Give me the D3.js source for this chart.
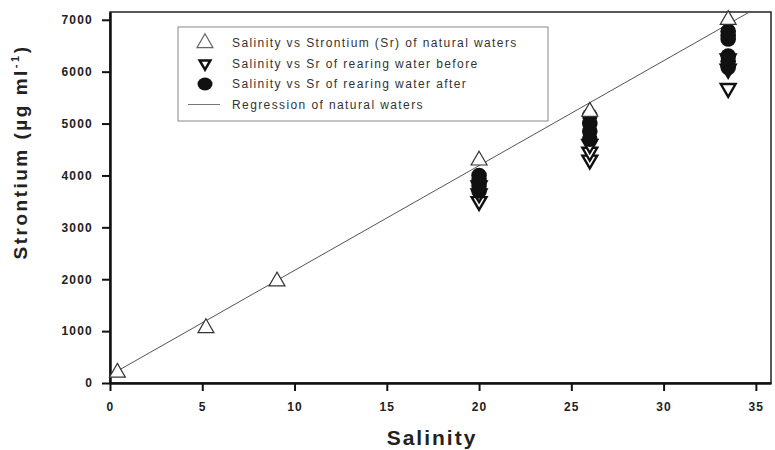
<!DOCTYPE html>
<html>
<head>
<meta charset="utf-8">
<script src="https://cdn.jsdelivr.net/npm/d3@7"></script>
<style>
  body { margin: 0; background: #fff; }
  text { font-family: "Liberation Sans", Arial, sans-serif; }
</style>
</head>
<body>
<svg width="775" height="450"></svg>
<script>
// salinity vs strontium
const natural = [[0.4, 200], [5.2, 1060], [9.05, 1960], [20, 4290], [26, 5230], [33.5, 7000]];
const before = [[20, 3500], [20, 3650], [20, 3800], [26, 4300], [26, 4450], [26, 4600],
                [33.5, 5680], [33.5, 6050], [33.5, 6250]];
const after = [[20, 3700], [20, 3800], [20, 3900], [20, 4000],
               [26, 4700], [26, 4850], [26, 5000], [26, 5150],
               [33.5, 6080], [33.5, 6200], [33.5, 6300], [33.5, 6630], [33.5, 6700], [33.5, 6780]];
const regression = { intercept: 150, slope: 202 };
const xTicks = [0, 5, 10, 15, 20, 25, 30, 35];
const yTicks = [0, 1000, 2000, 3000, 4000, 5000, 6000, 7000];
const legendItems = [
    { label: "Salinity vs Strontium (Sr) of natural waters", type: "natural" },
    { label: "Salinity vs Sr of rearing water before", type: "before" },
    { label: "Salinity vs Sr of rearing water after", type: "after" },
    { label: "Regression of natural waters", type: "line" }
];

const svg = d3.select("svg");
const plotL = 110, plotR = 771, plotT = 12, plotB = 383;

const x = d3.scaleLinear().domain([0, 35.82]).range([plotL, plotR]);
const y = d3.scaleLinear().domain([0, 7150]).range([plotB, plotT]);

// frame
svg.append("rect")
    .attr("x", plotL).attr("y", plotT)
    .attr("width", plotR - plotL).attr("height", plotB - plotT)
    .attr("fill", "none").attr("stroke", "#222").attr("stroke-width", 1.5);

const xAxis = svg.append("g")
    .attr("transform", `translate(0,${plotB})`)
    .call(d3.axisBottom(x).tickValues(xTicks).tickFormat(d3.format("d"))
        .tickSize(8).tickPadding(11).tickSizeOuter(0));
const yAxis = svg.append("g")
    .attr("transform", `translate(${plotL},0)`)
    .call(d3.axisLeft(y).tickValues(yTicks).tickFormat(d3.format("d"))
        .tickSize(8).tickPadding(9).tickSizeOuter(0));

[xAxis, yAxis].forEach(a => {
    a.select(".domain").attr("stroke", "#111").attr("stroke-width", 2.5);
    a.selectAll(".tick line").attr("stroke", "#111").attr("stroke-width", 2);
    a.selectAll(".tick text")
        .attr("fill", "#222")
        .style("font-size", "12px")
        .style("font-weight", "bold")
        .style("letter-spacing", "1.2px");
});

// regression line
const x1 = 0, x2 = (7150 - regression.intercept) / regression.slope;
svg.append("line")
    .attr("x1", x(x1)).attr("y1", y(regression.intercept + regression.slope * x1))
    .attr("x2", x(x2)).attr("y2", y(regression.intercept + regression.slope * x2))
    .attr("stroke", "#555").attr("stroke-width", 1);

const triUp = d3.symbol().type(d3.symbolTriangle).size(110);
const triDown = d3.symbol().type(d3.symbolTriangle).size(95);

svg.append("g").selectAll("path")
    .data(before).join("path")
    .attr("d", triDown)
    .attr("transform", d => `translate(${x(d[0])},${y(d[1])}) rotate(180)`)
    .attr("fill", "#fff").attr("stroke", "#111").attr("stroke-width", 2.4);

svg.append("g").selectAll("circle")
    .data(after).join("circle")
    .attr("cx", d => x(d[0])).attr("cy", d => y(d[1]))
    .attr("r", 7.8).attr("fill", "#111");

svg.append("g").selectAll("path")
    .data(natural).join("path")
    .attr("d", triUp)
    .attr("transform", d => `translate(${x(d[0])},${y(d[1])})`)
    .attr("fill", "#fff").attr("stroke", "#333").attr("stroke-width", 1.2);

// legend
const legend = svg.append("g").attr("transform", "translate(178,27)");
legend.append("rect")
    .attr("width", 370).attr("height", 94)
    .attr("fill", "#fff").attr("stroke", "#888").attr("stroke-width", 1);

const row = legend.selectAll("g.item")
    .data(legendItems).join("g")
    .attr("class", "item")
    .attr("transform", (d, i) => `translate(27,${16 + i * 20.5})`);

row.each(function(d) {
    const g = d3.select(this);
    if (d.type === "natural") {
        g.append("path").attr("d", triUp).attr("fill", "#fff").attr("stroke", "#666").attr("stroke-width", 1.2);
    } else if (d.type === "before") {
        g.append("path").attr("d", d3.symbol().type(d3.symbolTriangle).size(50))
            .attr("transform", "rotate(180)")
            .attr("fill", "#fff").attr("stroke", "#111").attr("stroke-width", 2.5);
    } else if (d.type === "after") {
        g.append("ellipse").attr("rx", 7.5).attr("ry", 6.5).attr("fill", "#111");
    } else {
        g.append("line").attr("x1", -17).attr("x2", 15).attr("stroke", "#777").attr("stroke-width", 1);
    }
});

row.append("text")
    .attr("x", 27).attr("y", 4)
    .attr("fill", "#333")
    .style("font-size", "12px")
    .style("letter-spacing", "1.4px")
    .text(d => d.label);

// axis titles
svg.append("text")
    .attr("x", 432).attr("y", 445)
    .attr("text-anchor", "middle")
    .attr("fill", "#222")
    .style("font-size", "21px").style("font-weight", "bold")
    .style("letter-spacing", "2px")
    .text("Salinity");

const yTitle = svg.append("text")
    .attr("transform", "translate(27,152) rotate(-90)")
    .attr("text-anchor", "middle")
    .attr("fill", "#222")
    .style("font-size", "19px").style("font-weight", "bold")
    .style("letter-spacing", "2.5px");
yTitle.append("tspan").text("Strontium (µg ml");
yTitle.append("tspan").attr("dy", -8).style("font-size", "11px").text("-1");
yTitle.append("tspan").attr("dy", 8).text(")");
</script>
</body>
</html>
